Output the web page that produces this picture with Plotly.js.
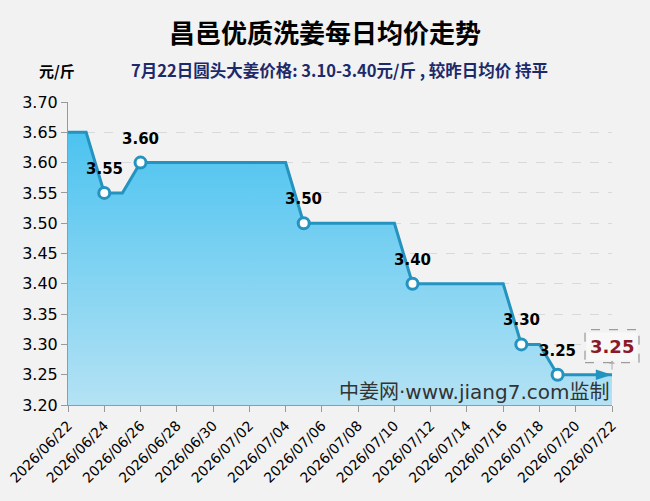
<!DOCTYPE html>
<html>
<head>
<meta charset="utf-8">
<script src="https://cdn.plot.ly/plotly-3.0.1.min.js"></script>
<style>html,body{margin:0;padding:0;background:#f2f2f2;}</style>
</head>
<body>
<div id="chart" style="width:650px;height:501px;"></div>
<script>
const dates = ["2026-06-22","2026-06-23","2026-06-24","2026-06-25","2026-06-26","2026-06-27","2026-06-28","2026-06-29","2026-06-30","2026-07-01","2026-07-02","2026-07-03","2026-07-04","2026-07-05","2026-07-06","2026-07-07","2026-07-08","2026-07-09","2026-07-10","2026-07-11","2026-07-12","2026-07-13","2026-07-14","2026-07-15","2026-07-16","2026-07-17","2026-07-18","2026-07-19","2026-07-20","2026-07-21","2026-07-22"];
const prices = [3.65,3.65,3.55,3.55,3.60,3.60,3.60,3.60,3.60,3.60,3.60,3.60,3.60,3.50,3.50,3.50,3.50,3.50,3.50,3.40,3.40,3.40,3.40,3.40,3.40,3.30,3.30,3.25,3.25,3.25,3.25];
const yTicks = [3.20,3.25,3.30,3.35,3.40,3.45,3.50,3.55,3.60,3.65,3.70];
const titleText = "昌邑优质洗姜每日均价走势";
const unitText = "元/斤";
const subText = "7月22日圆头大姜价格: 3.10-3.40元/斤 , 较昨日均价 持平";
const watermark = "中姜网·www.jiang7.com监制";

const lineColor = "#2493bf";
const numFont = "DejaVu Sans, Noto Sans CJK SC, sans-serif";
const cjkFont = "Noto Sans CJK SC, sans-serif";

const yMin = yTicks[0], yMax = yTicks[yTicks.length-1];

// change points
const cx = [], cy = [];
for (let i = 1; i < prices.length; i++) {
  if (prices[i] !== prices[i-1]) { cx.push(dates[i]); cy.push(prices[i]); }
}
const lastX = dates[dates.length-1], lastY = prices[prices.length-1];
const lastYPaper = (lastY - yMin) / (yMax - yMin);

const traces = [
  {
    x: dates, y: prices, type: "scatter", mode: "lines",
    line: {color: lineColor, width: 3},
    fill: "tozeroy",
    fillgradient: {type: "vertical", start: yMin, stop: 3.65,
      colorscale: [[0, "#b4e2f4"], [1, "#4cc3f0"]]},
    hoverinfo: "skip"
  },
  {
    x: cx, y: cy, type: "scatter", mode: "markers",
    marker: {size: 11, color: "#ffffff", line: {color: lineColor, width: 3}},
    hoverinfo: "skip"
  },
  {
    x: [lastX], y: [lastY], type: "scatter", mode: "markers",
    marker: {symbol: "arrow", angle: 90, size: 17, color: lineColor, line: {width: 0}},
    cliponaxis: false, hoverinfo: "skip"
  }
];

const annotations = cx.map((d, i) => ({
  x: d, y: cy[i], xref: "x", yref: "y", text: cy[i].toFixed(2),
  showarrow: false, yshift: 24,
  font: {family: numFont, size: 15, color: "#000", weight: "bold"}
}));
annotations.push({
  x: lastX, y: lastY, xref: "x", yref: "y", text: lastY.toFixed(2),
  showarrow: true, ax: 0, ay: -28, arrowhead: 2, arrowsize: 1, arrowwidth: 1,
  arrowside: "start", arrowcolor: "#aaaaaa", standoff: 5, startstandoff: 0,
  bgcolor: "#f8f8f8", borderpad: 3,
  font: {family: numFont, size: 18, color: "#8b1a28", weight: "bold"}
});
annotations.push({
  xref: "paper", yref: "paper", x: 1, y: 0, xanchor: "right", yanchor: "bottom",
  yshift: -1, text: watermark, showarrow: false,
  font: {family: numFont, size: 20, color: "#333333"}
});
annotations.push({
  xref: "paper", yref: "paper", x: 0.5, y: 1, xanchor: "center", yanchor: "middle",
  xshift: -15, yshift: 71, text: "<b>" + titleText + "</b>", showarrow: false,
  font: {family: cjkFont, size: 26, color: "#000"}
});
annotations.push({
  xref: "paper", yref: "paper", x: 0, y: 1, xanchor: "left", yanchor: "middle",
  xshift: -31, yshift: 32, text: "<b>" + unitText + "</b>", showarrow: false,
  font: {family: cjkFont, size: 15, color: "#000"}
});
annotations.push({
  xref: "paper", yref: "paper", x: 0, y: 1, xanchor: "left", yanchor: "middle",
  xshift: 61, yshift: 32, text: "<b>" + subText + "</b>", showarrow: false,
  font: {family: cjkFont, size: 16.5, color: "#1c2a6b"}
});

const layout = {
  width: 650, height: 501,
  paper_bgcolor: "#f2f2f2", plot_bgcolor: "#f2f2f2",
  margin: {l: 68, r: 38, t: 102, b: 96},
  showlegend: false,
  xaxis: {
    type: "date", range: [dates[0], lastX],
    tick0: dates[0], dtick: 2 * 86400000, tickformat: "%Y/%m/%d",
    tickangle: -45, ticks: "outside", ticklen: 6, tickcolor: "#999",
    showgrid: false, showline: true, linecolor: "#999", linewidth: 1,
    zeroline: false,
    tickfont: {family: numFont, size: 14, color: "#000"}
  },
  yaxis: {
    range: [yMin, yMax], tickvals: yTicks,
    ticktext: yTicks.map(v => v.toFixed(2)),
    ticks: "outside", ticklen: 6, tickcolor: "#999",
    showgrid: true, gridcolor: "#d9d9d9", griddash: "dash", gridwidth: 1,
    showline: true, linecolor: "#999", linewidth: 1, zeroline: false,
    tickfont: {family: numFont, size: 16, color: "#000"}
  },
  shapes: [{
    type: "rect", xref: "paper", yref: "paper",
    xsizemode: "pixel", ysizemode: "pixel", xanchor: 1, yanchor: lastYPaper,
    x0: -27, x1: 27, y0: 12, y1: 45,
    line: {color: "#888", width: 1, dash: "dash"}, fillcolor: "rgba(0,0,0,0)"
  }],
  annotations: annotations
};

Plotly.newPlot("chart", traces, layout, {displayModeBar: false, staticPlot: true});
</script>
</body>
</html>
